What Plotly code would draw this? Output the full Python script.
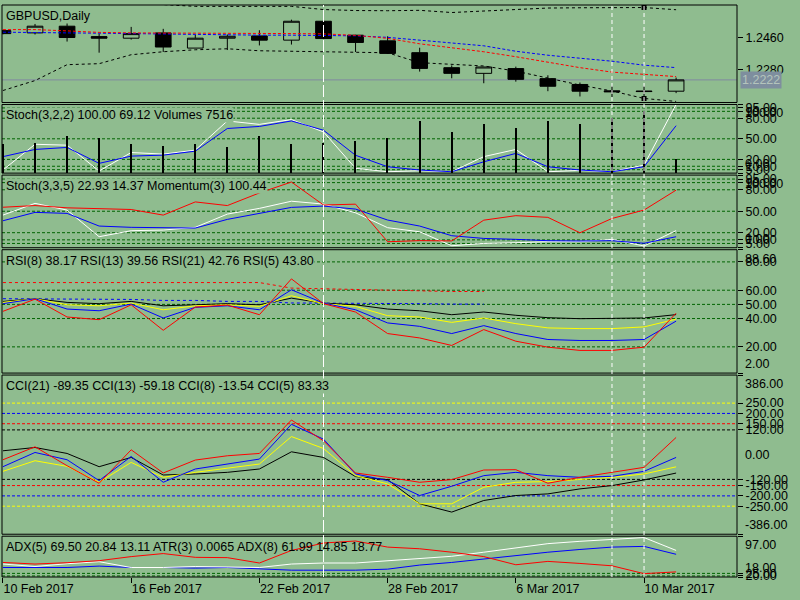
import plotly.graph_objects as go

# ---- data ----
dates = ["2017-02-10", "2017-02-13", "2017-02-14", "2017-02-15", "2017-02-16", "2017-02-17",
         "2017-02-20", "2017-02-21", "2017-02-22", "2017-02-23", "2017-02-24", "2017-02-27",
         "2017-02-28", "2017-03-01", "2017-03-02", "2017-03-03", "2017-03-06", "2017-03-07",
         "2017-03-08", "2017-03-09", "2017-03-10", "2017-03-13"]
date_ticks = ["2017-02-10", "2017-02-16", "2017-02-22", "2017-02-28", "2017-03-06", "2017-03-10"]
date_labels = ["10 Feb 2017", "16 Feb 2017", "22 Feb 2017", "28 Feb 2017", "6 Mar 2017", "10 Mar 2017"]
marked_days = ["2017-02-24", "2017-03-09", "2017-03-10"]
signal_day = "2017-03-10"

open_ = [1.2501, 1.2488, 1.2526, 1.2467, 1.2458, 1.2488, 1.2402, 1.2458, 1.2471, 1.2447, 1.2554,
         1.2475, 1.2443, 1.2376, 1.2291, 1.2259, 1.2286, 1.2229, 1.2196, 1.2160, 1.2159, 1.2158]
high = [1.2505, 1.2539, 1.2548, 1.2484, 1.2522, 1.2511, 1.2477, 1.2479, 1.2503, 1.2563, 1.2573,
        1.2477, 1.2469, 1.2404, 1.2304, 1.2295, 1.2297, 1.2248, 1.2207, 1.2188, 1.2188, 1.2235]
low = [1.2480, 1.2479, 1.2439, 1.2376, 1.2450, 1.2380, 1.2402, 1.2391, 1.2417, 1.2422, 1.2454,
       1.2380, 1.2369, 1.2269, 1.2231, 1.2203, 1.2212, 1.2158, 1.2128, 1.2124, 1.2125, 1.2147]
close = [1.2484, 1.2526, 1.2462, 1.2458, 1.2484, 1.2408, 1.2458, 1.2469, 1.2447, 1.2554, 1.2456,
         1.2434, 1.2372, 1.2287, 1.2259, 1.2295, 1.2225, 1.2186, 1.2158, 1.2155, 1.2156, 1.2222]

ma_red = [1.25067, 1.25067, 1.24994, 1.24909, 1.24881, 1.24881, 1.24881, 1.24881, 1.24864, 1.24842,
          1.24825, 1.24741, 1.24572, 1.24263, 1.24038, 1.23813, 1.23531, 1.23222, 1.22913, 1.22660,
          1.22536, 1.22406]
ma_blue = [1.24921, 1.24921, 1.24881, 1.24864, 1.24842, 1.24797, 1.24769, 1.24752, 1.24752, 1.24752,
           1.24741, 1.24713, 1.24628, 1.24459, 1.24319, 1.24150, 1.23841, 1.23616, 1.23447, 1.23278,
           1.23053, 1.22913]
band_up = [1.27244, 1.27131, 1.26906, 1.26738, 1.26625, 1.26484, 1.26383, 1.26383, 1.26383, 1.26383,
           1.26203, 1.26147, 1.26136, 1.26158, 1.26034, 1.26119, 1.26203, 1.26288, 1.26304, 1.26316,
           1.26316, 1.26192]
band_dn = [1.21619, 1.22181, 1.23081, 1.23138, 1.23644, 1.23813, 1.23925, 1.23981, 1.23869, 1.23841,
           1.23813, 1.23813, 1.23756, 1.23194, 1.23081, 1.23008, 1.22716, 1.22322, 1.21928, 1.21591,
           1.21169, 1.21000]

volumes = [15800, 16600, 20300, 19300, 15700, 14800, 15700, 13900, 20300, 15700, 16600,
           17500, 19300, 28500, 22500, 26700, 24500, 28500, 26700, 30300, 34000, 7516]
stoch1_main = [4.5, 42, 40.7, 3, 30, 27.7, 33.5, 76, 71, 78, 60, 7, 2, 3.5, 2, 24, 34.5, 2, 4, 2, 11.7, 100]
stoch1_sig = [24, 34.5, 37.4, 14.2, 24.8, 26.2, 32, 65, 68, 76, 62.5, 26, 9.3, 4.5, 2, 16.5, 28.7,
              9.3, 4.5, 2, 9.3, 69.12]

stoch2_main = [44.6, 61, 51.6, 14.4, 22.8, 23.7, 27.5, 46, 54, 64, 60, 47.8, 27, 21.3, 1.8, 5, 6,
               7.4, 7.4, 10.7, 1.4, 22.93]
stoch2_sig = [36.7, 48.4, 47, 29.3, 27.5, 27, 26.5, 38.6, 47, 55.4, 57.2, 53, 37.7, 29.3, 15.8, 12,
              10.7, 8.8, 8.4, 8.8, 5.2, 14.37]
momentum = [99.83, 99.89, 99.81, 99.79, 99.75, 99.55, 100.02, 99.89, 100.34, 100.73, 99.91, 99.94,
            98.60, 98.64, 98.63, 99.37, 99.53, 99.47, 98.92, 99.43, 99.73, 100.44]

rsi21 = [52.1, 54, 51.4, 50.5, 52.1, 49, 49.7, 50.5, 49.7, 54.4, 50.9, 49.7, 46.7, 45.5, 42.7, 44.6,
         42.3, 40.6, 39.9, 39.9, 40.4, 42.76]
rsi13 = [51.4, 54, 49.7, 49, 50.9, 46.2, 49, 49.7, 48.6, 56.1, 50.5, 48.6, 42, 41.1, 37.3, 40.4,
         36.4, 33.4, 32.9, 32.9, 34.1, 39.56]
rsi8 = [50.5, 54, 46.7, 45.5, 50.2, 40.4, 47.9, 49, 46.2, 60.3, 50.9, 46.2, 36.9, 34.5, 29.4, 35,
        29.4, 25.2, 24.5, 24.5, 25.2, 38.17]
rsi5 = [45.1, 53.7, 41.1, 39.2, 49.7, 31.7, 48.1, 49.5, 42.7, 68, 50.5, 44.6, 29.4, 26.3, 21, 32.2,
        24, 19.8, 17.5, 17.5, 19.8, 43.8]
rsi_avg_red = [65.4, 65.4, 65.4, 65.4, 65.4, 65.4, 65.4, 65.4, 65.4, 61.5, 61, 60.5, 60, 59.5, 59.1, 59.1,
               None, None, None, None, None, None]
rsi_avg_blue = [54, 54, 54, 54, 53.5, 52.8, 52.8, 52.1, 52.1, 51, 51, 50.9, 50.9, 50.5, 50.2, 50.2,
                None, None, None, None, None, None]

cci21 = [18.7, 34.7, 5.8, -58.5, -13.5, -98.7, -93.8, -85.8, -69.7, 13.8, -13.5, -106.7, -121.2,
         -238.5, -278.6, -222.4, -198.3, -190.3, -166.1, -150.1, -122.8, -89.35]
cci13 = [-81, -29.6, -56.9, -134, -37.6, -110, -85.8, -66.5, -45.6, 87.7, 29.9, -101.9, -142,
         -238.5, -238.5, -158.1, -134, -130.8, -121.2, -110, -93.8, -59.18]
cci8 = [-58.5, 10.6, -24.7, -126, -8.7, -134, -69.7, -45.6, -21.5, 147.2, 75, -93.8, -126, -198.3,
        -153.3, -101.9, -85.8, -101.9, -110, -105.1, -81, -13.54]
cci5 = [-24.7, 37.9, -53.7, -138.8, 23.5, -89, -26.3, -5.5, 5.8, 168, 67, -89, -110, -134, -121.2,
        -74.6, -73, -138.8, -110, -85.8, -61.7, 83.33]

adx5 = [43.1, 38.3, 43.7, 47.6, 36.4, 36.4, 38.3, 37.8, 36.4, 43.1, 45.1, 45.1, 49.6, 53, 58.1, 66,
        74.7, 82.6, 87.1, 91.1, 94.4, 69.5]
adx8 = [36.4, 36.4, 36.4, 39.1, 36.4, 36.4, 35.2, 36.4, 33.2, 31.2, 31.2, 31.2, 33.2, 41.1, 46.2, 53,
        59.5, 66, 71.3, 75.9, 77.3, 61.99]
di5 = [46.2, 43.1, 45.7, 49.6, 57.5, 63.4, 56.1, 55.5, 45.1, 69.4, 83.8, 87.7, 75.9, 72.7, 66, 57.5,
       41.7, 48.2, 44.3, 39.7, 24.5, 27.9]

stoch_levels = [95, 90, 80, 50, 20, 10, 5]
rsi_levels = [80, 60, 50, 40, 20]
cci_levels = [(250, "#ffff00"), (200, "#0000ff"), (150, "#ff0000"), (120, "#000000")]
adx_levels = [20, 25]

BG = "#8fbc8f"
GRID = "#006400"
FONT = "Liberation Sans, Arial, sans-serif"

# panel edges in pixels (top, bottom) inside the 600 px tall figure
TOP, BOTTOM = 2, 577
PANELS = {"y": (2, 100), "y2": (102, 171), "y3": (173, 246),
          "y4": (248, 372), "y5": (374, 534), "y6": (536, 577)}


def dom(name):
    t, b = PANELS[name]
    h = BOTTOM - TOP
    return [(BOTTOM - b) / h, (BOTTOM - t) / h]


def line(y, color, axis, dash=None):
    return go.Scatter(x=dates, y=y, mode="lines", yaxis=axis, hoverinfo="skip",
                      line=dict(color=color, width=1, dash=dash))


fig = go.Figure()

# price
fig.add_trace(go.Candlestick(x=dates, open=open_, high=high, low=low, close=close, yaxis="y",
                             increasing=dict(line=dict(color="black", width=1), fillcolor=BG),
                             decreasing=dict(line=dict(color="black", width=1), fillcolor="black")))
fig.add_trace(line(band_up, "black", "y", "3px,3px"))
fig.add_trace(line(band_dn, "black", "y", "3px,3px"))
fig.add_trace(line(ma_blue, "#0000ff", "y", "3px,2px"))
fig.add_trace(line(ma_red, "#ff0000", "y", "3px,2px"))
k = dates.index(signal_day)
fig.add_trace(go.Scatter(x=[dates[k], dates[k]], y=[band_up[k], band_dn[k]], mode="markers", yaxis="y",
                         marker=dict(symbol="square", size=5, color="black"), hoverinfo="skip"))

# stoch + volumes
fig.add_trace(go.Bar(x=dates, y=volumes, yaxis="y7", width=0.04, marker=dict(color="black", line_width=0)))
fig.add_trace(line(stoch1_main, "#ffffff", "y2"))
fig.add_trace(line(stoch1_sig, "#0000ff", "y2"))

# stoch + momentum
fig.add_trace(line(momentum, "#ff0000", "y8"))
fig.add_trace(line(stoch2_main, "#ffffff", "y3"))
fig.add_trace(line(stoch2_sig, "#0000ff", "y3"))

# RSI
fig.add_trace(line(rsi_avg_red, "#ff0000", "y4", "3px,3px"))
fig.add_trace(line(rsi_avg_blue, "#0000ff", "y4", "3px,3px"))
fig.add_trace(line(rsi21, "#000000", "y4"))
fig.add_trace(line(rsi13, "#ffff00", "y4"))
fig.add_trace(line(rsi8, "#0000ff", "y4"))
fig.add_trace(line(rsi5, "#ff0000", "y4"))

# CCI
fig.add_trace(line(cci21, "#000000", "y5"))
fig.add_trace(line(cci13, "#ffff00", "y5"))
fig.add_trace(line(cci8, "#0000ff", "y5"))
fig.add_trace(line(cci5, "#ff0000", "y5"))

# ADX
fig.add_trace(line(adx8, "#0000ff", "y6"))
fig.add_trace(line(adx5, "#ffffff", "y6"))
fig.add_trace(line(di5, "#ff0000", "y6"))

shapes = []
for name in PANELS:
    d = dom(name)
    shapes.append(dict(type="rect", xref="paper", yref="paper", x0=0, x1=1, y0=d[0], y1=d[1],
                       line=dict(color="black", width=1), layer="above"))


def hline(axis, v, color, dash="3px,2px"):
    shapes.append(dict(type="line", xref="paper", yref=axis, x0=0, x1=1, y0=v, y1=v,
                       line=dict(color=color, width=1, dash=dash), layer="below"))


for ax in ("y2", "y3"):
    for v in stoch_levels:
        hline(ax, v, GRID)
for v in rsi_levels:
    hline("y4", v, GRID)
for v, c in cci_levels:
    hline("y5", v, c)
    hline("y5", -v, c)
for v in adx_levels:
    hline("y6", v, GRID)
shapes.append(dict(type="line", xref="paper", yref="y", x0=0, x1=1, y0=close[-1], y1=close[-1],
                   line=dict(color="#8088a0", width=1), layer="below"))
for i, day in enumerate(marked_days):
    xi = dates.index(day)
    shapes.append(dict(type="line", xref="x", yref="paper", x0=xi, x1=xi, y0=0, y1=1,
                       line=dict(color="white", width=1, dash="12px,3px" if i == 0 else "4px,3px"),
                       layer="above"))

titles = {"y": "GBPUSD,Daily",
          "y2": "Stoch(3,2,2) 100.00 69.12 Volumes 7516",
          "y3": "Stoch(3,3,5) 22.93 14.37 Momentum(3) 100.44",
          "y4": "RSI(8) 38.17 RSI(13) 39.56 RSI(21) 42.76 RSI(5) 43.80",
          "y5": "CCI(21) -89.35 CCI(13) -59.18 CCI(8) -13.54 CCI(5) 83.33",
          "y6": "ADX(5) 69.50 20.84 13.11 ATR(3) 0.0065 ADX(8) 61.99 14.85 18.77"}
annotations = []
for name, text in titles.items():
    annotations.append(dict(text=text, xref="paper", yref="paper", x=0, y=dom(name)[1], xanchor="left",
                            yanchor="middle", xshift=3, yshift=-11, showarrow=False,
                            bgcolor=BG if name != "y6" else None, borderpad=0,
                            font=dict(family=FONT, size=12.5, color="black")))

# window max / min labels
edge_labels = [("y2", 100, "100.00", "top"), ("y2", 0, "0.00", "bottom"),
               ("y3", 100.5, "100.00", "top"), ("y3", -1, "0.00", "bottom"),
               ("y4", 88.6, "88.60", "top"), ("y4", 1.5, "2.00", "bottom"),
               ("y5", 386, "386.00", "top"), ("y5", 0, "0.00", "middle"), ("y5", -386, "-386.00", "bottom"),
               ("y6", 97, "97.00", "top"), ("y6", 18, "18.00", "bottom")]
for ax, v, text, anchor in edge_labels:
    annotations.append(dict(text=text, xref="paper", yref=ax, x=1, y=v, xanchor="left", yanchor=anchor,
                            xshift=6, showarrow=False, font=dict(family=FONT, size=12.5, color="black")))
annotations.append(dict(text=f"{close[-1]:.4f}", xref="paper", yref="y", x=1, y=close[-1],
                        xanchor="left", yanchor="middle", xshift=3, showarrow=False,
                        bgcolor="#7e8e9e", borderpad=1,
                        font=dict(family=FONT, size=12.5, color="#b4c4bc")))


def yax(name, rng, vals, texts=None):
    return dict(domain=dom(name), range=rng, side="right", anchor="x", showgrid=False, zeroline=False,
                showline=False, ticks="outside", ticklen=5, tickcolor="black", tickvals=vals,
                ticktext=texts if texts is not None else [f"{v:.2f}" for v in vals],
                tickfont=dict(family=FONT, size=12.5, color="black"), fixedrange=True)


fig.update_layout(
    width=800, height=600, margin=dict(l=2, r=63, t=2, b=23),
    paper_bgcolor=BG, plot_bgcolor=BG, showlegend=False,
    xaxis=dict(type="category", categoryarray=dates, range=[-0.03, 22.9], anchor="y6",
               tickvals=date_ticks, ticktext=date_labels, ticks="outside", ticklen=5, tickcolor="black",
               ticklabelposition="outside right", showgrid=False, zeroline=False, showline=False,
               rangeslider=dict(visible=False), tickfont=dict(family=FONT, size=12.5, color="black")),
    yaxis=yax("y", [1.2094, 1.2646], [1.2460, 1.2280], ["1.2460", "1.2280"]),
    yaxis2=yax("y2", [0, 100], stoch_levels + [100, 0], [f"{v:.2f}" for v in stoch_levels] + ["", ""]),
    yaxis3=yax("y3", [-1, 100.5], stoch_levels + [100.5, -1], [f"{v:.2f}" for v in stoch_levels] + ["", ""]),
    yaxis4=yax("y4", [1.5, 88.6], rsi_levels + [88.6, 1.5], [f"{v:.2f}" for v in rsi_levels] + ["", ""]),
    yaxis5=yax("y5", [-386, 386],
               [v for v, _ in cci_levels] + [-v for v, _ in cci_levels] + [386, -386],
               [f"{v:.2f}" for v, _ in cci_levels] + [f"{-v:.2f}" for v, _ in cci_levels] + ["", ""]),
    yaxis6=yax("y6", [18, 97], adx_levels + [97, 18], [f"{v:.2f}" for v in adx_levels] + ["", ""]),
    yaxis7=dict(overlaying="y2", range=[0, 37800], visible=False, fixedrange=True),
    yaxis8=dict(overlaying="y3", range=[98.387, 100.976], visible=False, fixedrange=True),
    shapes=shapes, annotations=annotations, bargap=0,
)

# page margin off so the 800x600 figure fills the window exactly; no modebar
fig.write_html("out.html", config={"displayModeBar": False},
               post_script="document.body.style.margin='0px';")
